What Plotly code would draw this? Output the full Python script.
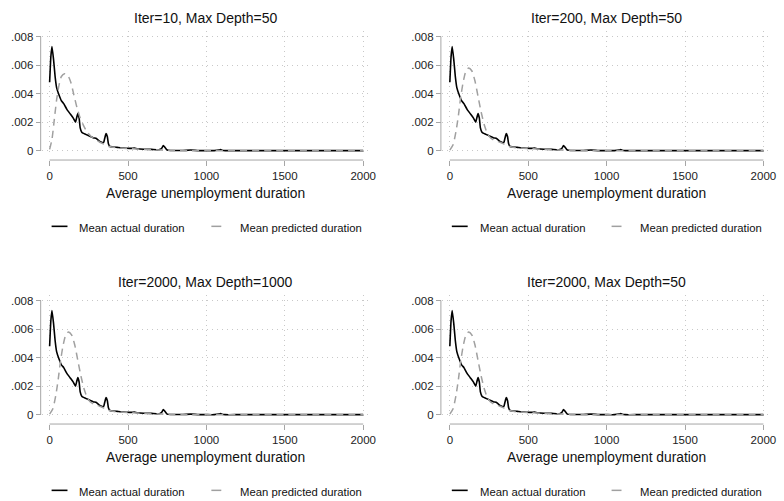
import plotly.graph_objects as go

W, H = 784, 501

# ---------------- data ----------------
panel_titles = [
    "Iter=10, Max Depth=50",
    "Iter=200, Max Depth=50",
    "Iter=2000, Max Depth=1000",
    "Iter=2000, Max Depth=50",
]
x_title = "Average unemployment duration"
legend_labels = ["Mean actual duration", "Mean predicted duration"]

x_tickvals = [0, 500, 1000, 1500, 2000]
x_ticktext = ["0", "500", "1000", "1500", "2000"]
y_tickvals = [0, 0.002, 0.004, 0.006, 0.008]
y_ticktext = ["0", ".002", ".004", ".006", ".008"]

actual_x = [0, 8, 15, 25, 35, 45, 60, 75, 90, 110, 130, 150, 165, 172, 180, 188,
            195, 205, 220, 240, 260, 280, 295, 305, 320, 335, 345, 352, 360, 368,
            375, 385, 400, 430, 470, 520, 540, 560, 600, 650, 700, 715, 725, 735,
            750, 770, 800, 850, 900, 950, 1000, 1050, 1080, 1090, 1100, 1120,
            1200, 1400, 1600, 1800, 2000]
actual_y = [0.0048, 0.0066, 0.0073, 0.0064, 0.0052, 0.0044, 0.0039, 0.0035, 0.0033,
            0.0029, 0.0026, 0.0023, 0.0020, 0.0023, 0.0026, 0.0023, 0.0016, 0.0013,
            0.0012, 0.0011, 0.0010, 0.0009, 0.00088, 0.0008, 0.00065, 0.00058,
            0.0006, 0.0009, 0.0012, 0.0010, 0.0005, 0.0003, 0.00027, 0.00024,
            0.0002, 0.00017, 0.00019, 0.00014, 0.00011, 0.0001, 0.00008, 0.00018,
            0.00036, 0.00025, 0.00005, 0.00002, 0.00002, 0.00002, 0.00005, 0.00001,
            0.00001, 0.00001, 0.00005, 0.00008, 0.00004, 0.00001, 0.00001, 0.00001,
            0.00001, 0.00001, 0.00001]

pred_iter10_x = [0, 15, 30, 45, 60, 75, 95, 115, 135, 155, 175, 195, 215, 240, 265,
                 290, 320, 350, 380, 420, 470, 520, 600, 700, 800, 900, 1000, 1500, 2000]
pred_iter10_y = [0.0001, 0.0008, 0.0022, 0.0036, 0.0046, 0.0052, 0.0054, 0.0053,
                 0.0048, 0.0039, 0.0030, 0.0023, 0.0018, 0.0013, 0.0010, 0.0008,
                 0.0006, 0.00045, 0.0003, 0.00022, 0.00018, 0.00014, 0.0001,
                 0.00006, 0.00002, 0.00001, 0.00001, 0.00001, 0.00001]

pred_deep_x = [0, 20, 40, 55, 70, 85, 100, 120, 140, 160, 180, 200, 220, 240, 260,
               290, 320, 350, 380, 420, 470, 520, 600, 700, 800, 900, 1000, 1500, 2000]
pred_deep_y = [0.00005, 0.0004, 0.0014, 0.0025, 0.0038, 0.0048, 0.0055, 0.0058,
               0.0056, 0.0049, 0.0038, 0.0027, 0.0018, 0.0012, 0.0009, 0.0007,
               0.0006, 0.00045, 0.0003, 0.00022, 0.00018, 0.00014, 0.0001, 0.00006,
               0.00002, 0.00001, 0.00001, 0.00001, 0.00001]

panel_pred = [(pred_iter10_x, pred_iter10_y), (pred_deep_x, pred_deep_y),
              (pred_deep_x, pred_deep_y), (pred_deep_x, pred_deep_y)]

# ---------------- layout geometry (pixels, panel 1) ----------------
FONT = "Liberation Sans, Arial, Helvetica, sans-serif"
col_off = [0, 403.3]
row_off = [0, 265.6]
X0_PX, X2000_PX = 50, 366
Y0_PX, Y8_PX = 151.7, 36.7
REG_L, REG_R, REG_T, REG_B = 42, 373, 31, 155
XAX_PX, YAX_PX = 161, 41

AX_COLOR = "#a6a6a6"
GRID_COLOR = "#c8c8c8"
PRED_COLOR = "#a0a0a0"

fig = go.Figure()
shapes, annotations = [], []
layout = {}

sx = (X2000_PX - X0_PX) / 2000.0
sy = (Y0_PX - Y8_PX) / 0.008

for i in range(4):
    r, c = divmod(i, 2)
    ox, oy = col_off[c], row_off[r]
    n = "" if i == 0 else str(i + 1)
    xa, ya = "x" + n, "y" + n

    fig.add_trace(go.Scatter(x=actual_x, y=actual_y, xaxis=xa, yaxis=ya, mode="lines",
                             name=legend_labels[0], showlegend=False,
                             line=dict(color="black", width=1.6, shape="spline", smoothing=0.4)))
    px_, py_ = panel_pred[i]
    fig.add_trace(go.Scatter(x=px_, y=py_, xaxis=xa, yaxis=ya, mode="lines",
                             name=legend_labels[1], showlegend=False,
                             line=dict(color=PRED_COLOR, width=1.5, dash="7px,5px",
                                       shape="spline", smoothing=0.6)))

    xr = [(REG_L - X0_PX) / sx, (REG_R - X0_PX) / sx]
    yr = [-(REG_B - Y0_PX) / sy, (Y0_PX - REG_T) / sy]

    layout["xaxis" + n] = dict(
        domain=[(REG_L + ox) / W, (REG_R + ox) / W], range=xr,
        anchor="free", position=1 - (XAX_PX + oy) / H,
        tickvals=x_tickvals, ticktext=x_ticktext, ticks="outside", ticklen=5,
        tickcolor=AX_COLOR, tickwidth=1, showline=False, zeroline=False,
        showgrid=True, gridcolor=GRID_COLOR, griddash="1px,4px", gridwidth=1,
        tickfont=dict(family=FONT, size=11.5, color="#222"),
    )
    layout["yaxis" + n] = dict(
        domain=[1 - (REG_B + oy) / H, 1 - (REG_T + oy) / H], range=yr,
        anchor="free", position=(YAX_PX + ox) / W,
        tickvals=y_tickvals, ticktext=y_ticktext, ticks="outside", ticklen=5,
        tickcolor=AX_COLOR, tickwidth=1, showline=False, zeroline=False,
        showgrid=True, gridcolor=GRID_COLOR, griddash="1px,4px", gridwidth=1,
        tickfont=dict(family=FONT, size=11.5, color="#222"),
    )

    # axis lines spanning the tick range (Stata style)
    shapes.append(dict(type="line", xref=xa, yref="paper",
                       x0=x_tickvals[0], x1=x_tickvals[-1],
                       y0=1 - (XAX_PX + oy) / H, y1=1 - (XAX_PX + oy) / H,
                       line=dict(color=AX_COLOR, width=1)))
    shapes.append(dict(type="line", xref="paper", yref=ya,
                       x0=(YAX_PX + ox) / W, x1=(YAX_PX + ox) / W,
                       y0=y_tickvals[0], y1=y_tickvals[-1],
                       line=dict(color=AX_COLOR, width=1)))

    cx = (REG_L + REG_R) / 2 + ox
    annotations.append(dict(text=panel_titles[i], xref="paper", yref="paper",
                            x=cx / W, y=1 - (18.5 + oy) / H, showarrow=False,
                            xanchor="center", yanchor="middle",
                            font=dict(family=FONT, size=14, color="#111")))
    annotations.append(dict(text=x_title, xref="paper", yref="paper",
                            x=cx / W, y=1 - (195 + oy) / H, showarrow=False,
                            xanchor="center", yanchor="middle",
                            font=dict(family=FONT, size=13.8, color="#111")))

    # legend
    ly = 1 - (227.7 + oy) / H
    shapes.append(dict(type="line", xref="paper", yref="paper",
                       x0=(52 + ox) / W, x1=(68 + ox) / W, y0=ly, y1=ly,
                       line=dict(color="black", width=1.6)))
    shapes.append(dict(type="line", xref="paper", yref="paper",
                       x0=(213 + ox) / W, x1=(223 + ox) / W, y0=ly, y1=ly,
                       line=dict(color=PRED_COLOR, width=1.5)))
    annotations.append(dict(text=legend_labels[0], xref="paper", yref="paper",
                            x=(78 + ox) / W, y=1 - (229 + oy) / H, showarrow=False,
                            xanchor="left", yanchor="middle",
                            font=dict(family=FONT, size=11.3, color="#111")))
    annotations.append(dict(text=legend_labels[1], xref="paper", yref="paper",
                            x=(240 + ox) / W, y=1 - (229 + oy) / H, showarrow=False,
                            xanchor="left", yanchor="middle",
                            font=dict(family=FONT, size=11.3, color="#111")))

fig.update_layout(
    width=W, height=H, margin=dict(l=0, r=0, t=0, b=0),
    paper_bgcolor="white", plot_bgcolor="white",
    shapes=shapes, annotations=annotations, showlegend=False,
    **layout,
)

fig.write_html("out.html", config={"displayModeBar": False},
               post_script="document.body.style.margin='0';document.body.style.overflow='hidden';")
